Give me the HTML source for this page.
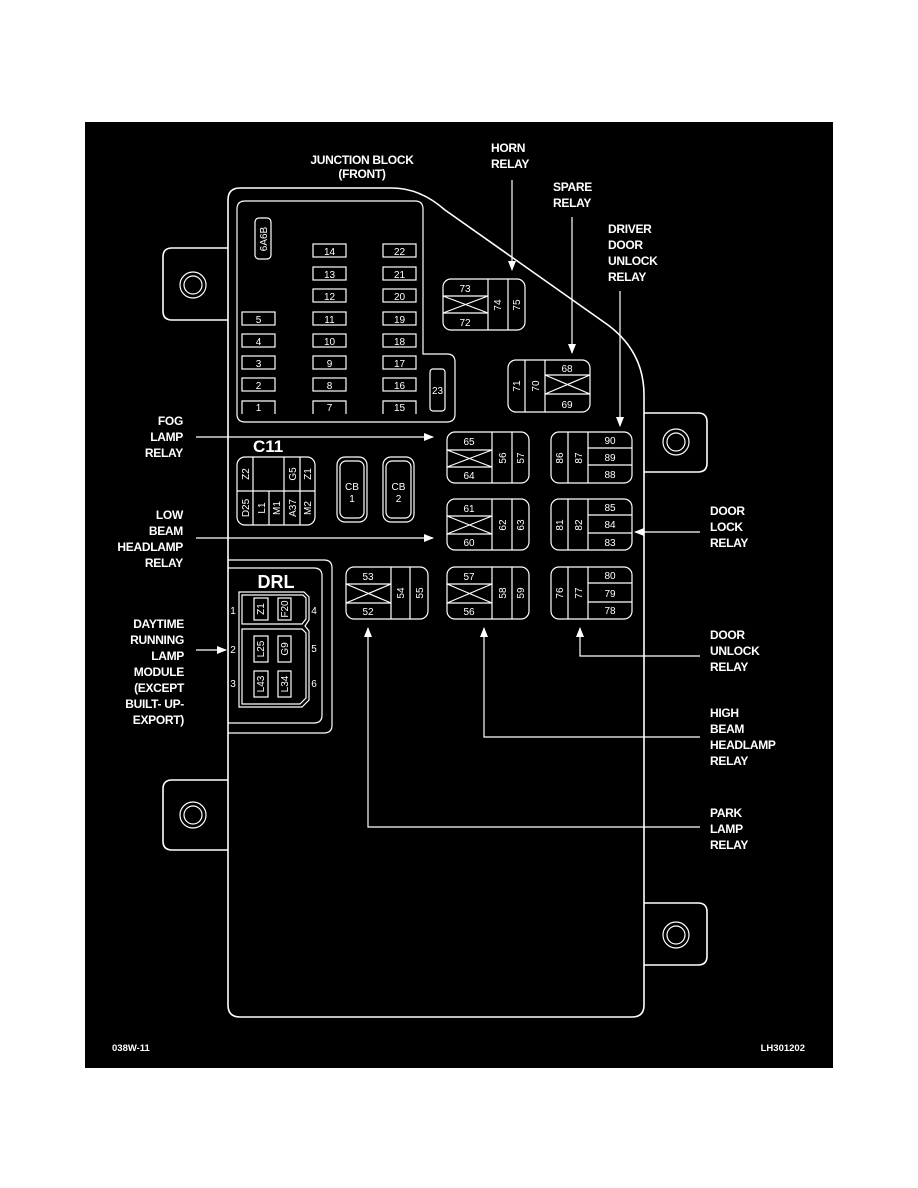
<!DOCTYPE html>
<html><head><meta charset="utf-8"><style>
html,body{margin:0;padding:0;background:#fff;}
svg{display:block;}
text{font-family:"Liberation Sans Narrow","Liberation Sans",sans-serif;fill:#fff;}
.l{font-weight:bold;font-size:12px;letter-spacing:-0.3px;}
.n{font-size:10px;}
.s{fill:none;stroke:#fff;stroke-width:1.6;}
.t{fill:none;stroke:#fff;stroke-width:1.2;}
</style></head><body>
<svg width="918" height="1188" viewBox="0 0 918 1188" xmlns="http://www.w3.org/2000/svg">
<defs><marker id="a" markerWidth="10" markerHeight="8" refX="9" refY="4" orient="auto" markerUnits="userSpaceOnUse"><path d="M0,0 L10,4 L0,8 Z" fill="#fff"/></marker></defs>
<rect x="85" y="122" width="748" height="946" fill="#000"/>

<!-- tabs -->
<path class="s" d="M228,248 H172 Q163,248 163,257 V311 Q163,320 172,320 H228"/>
<circle class="t" cx="193" cy="285" r="13"/><circle class="t" cx="193" cy="285" r="9"/>
<path class="s" d="M228,780 H172 Q163,780 163,789 V841 Q163,850 172,850 H228"/>
<circle class="t" cx="193" cy="815" r="13"/><circle class="t" cx="193" cy="815" r="9"/>
<path class="s" d="M644,413 H698 Q707,413 707,422 V463 Q707,472 698,472 H644"/>
<circle class="t" cx="676" cy="442" r="13"/><circle class="t" cx="676" cy="442" r="9"/>
<path class="s" d="M644,903 H698 Q707,903 707,912 V956 Q707,965 698,965 H644"/>
<circle class="t" cx="676" cy="935" r="13"/><circle class="t" cx="676" cy="935" r="9"/>

<!-- main outline -->
<path class="s" d="M228,200 Q228,188 240,188 H392 Q420,188 445,210 L608,325 Q644,352 644,395 V1005 Q644,1017 632,1017 H240 Q228,1017 228,1005 Z"/>

<!-- fuse panel -->
<path class="t" d="M245,201 H415 Q423,201 423,209 V354 H447 Q455,354 455,362 V414 Q455,422 447,422 H245 Q237,422 237,414 V209 Q237,201 245,201 Z"/>
<rect class="t" x="255" y="218" width="16" height="41" rx="4"/>
<text class="n" transform="translate(267,239) rotate(-90)" text-anchor="middle" font-size="9">6A6B</text>
<rect class="t" x="430" y="369" width="15" height="42" rx="3"/>
<text class="n" x="437.5" y="394" text-anchor="middle">23</text>
<g class="t">
<rect x="313" y="244" width="33" height="13"/><rect x="383" y="244" width="33" height="13"/>
<rect x="313" y="267" width="33" height="13"/><rect x="383" y="267" width="33" height="13"/>
<rect x="313" y="289" width="33" height="13"/><rect x="383" y="289" width="33" height="13"/>
<rect x="242" y="312" width="33" height="13"/><rect x="313" y="312" width="33" height="13"/><rect x="383" y="312" width="33" height="13"/>
<rect x="242" y="334" width="33" height="13"/><rect x="313" y="334" width="33" height="13"/><rect x="383" y="334" width="33" height="13"/>
<rect x="242" y="356" width="33" height="13"/><rect x="313" y="356" width="33" height="13"/><rect x="383" y="356" width="33" height="13"/>
<rect x="242" y="378" width="33" height="13"/><rect x="313" y="378" width="33" height="13"/><rect x="383" y="378" width="33" height="13"/>
<path d="M242,414 V401 H275 V414 M313,414 V401 H346 V414 M383,414 V401 H416 V414"/>
</g>
<g class="n" text-anchor="middle">
<text x="329.5" y="255">14</text><text x="399.5" y="255">22</text>
<text x="329.5" y="278">13</text><text x="399.5" y="278">21</text>
<text x="329.5" y="300">12</text><text x="399.5" y="300">20</text>
<text x="258.5" y="323">5</text><text x="329.5" y="323">11</text><text x="399.5" y="323">19</text>
<text x="258.5" y="345">4</text><text x="329.5" y="345">10</text><text x="399.5" y="345">18</text>
<text x="258.5" y="367">3</text><text x="329.5" y="367">9</text><text x="399.5" y="367">17</text>
<text x="258.5" y="389">2</text><text x="329.5" y="389">8</text><text x="399.5" y="389">16</text>
<text x="258.5" y="411">1</text><text x="329.5" y="411">7</text><text x="399.5" y="411">15</text>
</g>

<!-- Horn relay 73 -->
<rect class="t" x="443" y="279" width="82" height="51" rx="8"/>
<path class="t" d="M488,279 V330 M508,279 V330 M443,296 H488 M443,313 H488 M443,296 L488,313 M443,313 L488,296"/>
<g class="n" text-anchor="middle"><text x="465" y="292">73</text><text x="465" y="326">72</text>
<text transform="translate(501,305) rotate(-90)">74</text><text transform="translate(520,305) rotate(-90)">75</text></g>

<!-- Spare relay -->
<rect class="t" x="508" y="360" width="82" height="52" rx="8"/>
<path class="t" d="M525,360 V412 M545,360 V412 M545,375 H590 M545,394 H590 M545,375 L590,394 M545,394 L590,375"/>
<g class="n" text-anchor="middle"><text x="567" y="372">68</text><text x="567" y="408">69</text>
<text transform="translate(520,386) rotate(-90)">71</text><text transform="translate(539,386) rotate(-90)">70</text></g>

<!-- Type A relays -->
<rect class="t" x="447" y="432" width="82" height="51" rx="8"/>
<path class="t" d="M492,432 V483 M512,432 V483 M447,450 H492 M447,467 H492 M447,450 L492,467 M447,467 L492,450"/>
<g class="n" text-anchor="middle"><text x="469" y="445">65</text><text x="469" y="479">64</text>
<text transform="translate(506,458) rotate(-90)">56</text><text transform="translate(524,458) rotate(-90)">57</text></g>

<rect class="t" x="447" y="499" width="82" height="51" rx="8"/>
<path class="t" d="M492,499 V550 M512,499 V550 M447,516 H492 M447,534 H492 M447,516 L492,534 M447,534 L492,516"/>
<g class="n" text-anchor="middle"><text x="469" y="512">61</text><text x="469" y="546">60</text>
<text transform="translate(506,525) rotate(-90)">62</text><text transform="translate(524,525) rotate(-90)">63</text></g>

<rect class="t" x="447" y="567" width="82" height="52" rx="8"/>
<path class="t" d="M492,567 V619 M512,567 V619 M447,584 H492 M447,603 H492 M447,584 L492,603 M447,603 L492,584"/>
<g class="n" text-anchor="middle"><text x="469" y="580">57</text><text x="469" y="615">56</text>
<text transform="translate(506,593) rotate(-90)">58</text><text transform="translate(524,593) rotate(-90)">59</text></g>

<rect class="t" x="346" y="567" width="82" height="52" rx="8"/>
<path class="t" d="M391,567 V619 M410,567 V619 M346,584 H391 M346,603 H391 M346,584 L391,603 M346,603 L391,584"/>
<g class="n" text-anchor="middle"><text x="368" y="580">53</text><text x="368" y="615">52</text>
<text transform="translate(404,593) rotate(-90)">54</text><text transform="translate(423,593) rotate(-90)">55</text></g>

<!-- Type B relays -->
<rect class="t" x="551" y="432" width="81" height="51" rx="8"/>
<path class="t" d="M568,432 V483 M588,432 V483 M588,448 H632 M588,465 H632"/>
<g class="n" text-anchor="middle"><text x="610" y="444">90</text><text x="610" y="461">89</text><text x="610" y="478">88</text>
<text transform="translate(563,458) rotate(-90)">86</text><text transform="translate(582,458) rotate(-90)">87</text></g>

<rect class="t" x="551" y="499" width="81" height="51" rx="8"/>
<path class="t" d="M568,499 V550 M588,499 V550 M588,515 H632 M588,533 H632"/>
<g class="n" text-anchor="middle"><text x="610" y="511">85</text><text x="610" y="528">84</text><text x="610" y="546">83</text>
<text transform="translate(563,525) rotate(-90)">81</text><text transform="translate(582,525) rotate(-90)">82</text></g>

<rect class="t" x="551" y="567" width="81" height="52" rx="8"/>
<path class="t" d="M568,567 V619 M588,567 V619 M588,583 H632 M588,602 H632"/>
<g class="n" text-anchor="middle"><text x="610" y="579">80</text><text x="610" y="597">79</text><text x="610" y="614">78</text>
<text transform="translate(563,593) rotate(-90)">76</text><text transform="translate(582,593) rotate(-90)">77</text></g>

<!-- C11 -->
<text x="253" y="452" font-weight="bold" font-size="17">C11</text>
<rect class="t" x="237" y="457" width="78" height="68" rx="8"/>
<path class="t" d="M253,457 V525 M284,457 V525 M300,457 V525 M269,491 V525 M237,491 H253 M253,491 H284 M284,491 H315"/>
<g class="n" text-anchor="middle" font-size="9">
<text transform="translate(249,474) rotate(-90)">Z2</text><text transform="translate(296,474) rotate(-90)">G5</text><text transform="translate(311,474) rotate(-90)">Z1</text>
<text transform="translate(249,508) rotate(-90)">D25</text><text transform="translate(265,508) rotate(-90)">L1</text><text transform="translate(280,508) rotate(-90)">M1</text><text transform="translate(296,508) rotate(-90)">A37</text><text transform="translate(311,508) rotate(-90)">M2</text></g>
<rect class="t" x="337" y="457" width="30" height="65" rx="8"/><rect class="t" x="340" y="461" width="24" height="57" rx="6"/>
<rect class="t" x="383" y="457" width="31" height="65" rx="8"/><rect class="t" x="386" y="461" width="25" height="57" rx="6"/>
<g class="n" text-anchor="middle"><text x="352" y="490">CB</text><text x="352" y="502">1</text><text x="398.5" y="490">CB</text><text x="398.5" y="502">2</text></g>

<!-- DRL -->
<path class="t" d="M228,560 H324 Q332,560 332,568 V725 Q332,733 324,733 H228"/>
<path class="t" d="M228,568 H314 Q322,568 322,576 V715 Q322,723 314,723 H228"/>
<text x="276" y="588" font-weight="bold" font-size="18" text-anchor="middle">DRL</text>
<path class="t" d="M239,592 H304 L309,597 V620 L305,626 L309,631 V700 L302,707 H239 Z"/>
<path class="t" d="M242,595 H303 L306,598 V619 L302,624 H242 Z M242,629 H302 L306,633 V698 L300,704 H242 Z"/>
<g class="t"><rect x="254" y="598" width="14" height="22"/><rect x="278" y="598" width="13" height="22"/>
<rect x="254" y="636" width="14" height="26"/><rect x="278" y="636" width="13" height="26"/>
<rect x="254" y="671" width="14" height="26"/><rect x="278" y="671" width="13" height="26"/></g>
<g class="n" text-anchor="middle" font-size="9.5">
<text transform="translate(264,609) rotate(-90)">Z1</text><text transform="translate(288,609) rotate(-90)">F20</text>
<text transform="translate(264,649) rotate(-90)">L25</text><text transform="translate(288,649) rotate(-90)">G9</text>
<text transform="translate(264,684) rotate(-90)">L43</text><text transform="translate(288,684) rotate(-90)">L34</text>
<text x="233" y="614">1</text><text x="233" y="653">2</text><text x="233" y="687">3</text>
<text x="314" y="614">4</text><text x="314" y="652">5</text><text x="314" y="687">6</text></g>

<!-- arrows -->
<g class="t" marker-end="url(#a)">
<path d="M196,437 H433"/><path d="M196,538 H433"/><path d="M196,650 H226"/>
<path d="M512,180 V270"/><path d="M572,217 V353"/><path d="M620,291 V426"/>
<path d="M700,532 H635"/>
<path d="M700,656 H580 V628"/><path d="M700,737 H484 V628"/><path d="M700,827 H368 V628"/>
</g>

<!-- labels -->
<g class="l">
<g text-anchor="middle"><text x="362" y="164">JUNCTION BLOCK</text><text x="362" y="178">(FRONT)</text></g>
<text x="491" y="152">HORN</text><text x="491" y="168">RELAY</text>
<text x="553" y="191">SPARE</text><text x="553" y="207">RELAY</text>
<text x="608" y="233">DRIVER</text><text x="608" y="249">DOOR</text><text x="608" y="265">UNLOCK</text><text x="608" y="281">RELAY</text>
<g text-anchor="end">
<text x="183" y="425">FOG</text><text x="183" y="441">LAMP</text><text x="183" y="457">RELAY</text>
<text x="183" y="519">LOW</text><text x="183" y="535">BEAM</text><text x="183" y="551">HEADLAMP</text><text x="183" y="567">RELAY</text>
<text x="184" y="628">DAYTIME</text><text x="184" y="644">RUNNING</text><text x="184" y="660">LAMP</text><text x="184" y="676">MODULE</text><text x="184" y="692">(EXCEPT</text><text x="184" y="708">BUILT- UP-</text><text x="184" y="724">EXPORT)</text>
</g>
<text x="710" y="515">DOOR</text><text x="710" y="531">LOCK</text><text x="710" y="547">RELAY</text>
<text x="710" y="639">DOOR</text><text x="710" y="655">UNLOCK</text><text x="710" y="671">RELAY</text>
<text x="710" y="717">HIGH</text><text x="710" y="733">BEAM</text><text x="710" y="749">HEADLAMP</text><text x="710" y="765">RELAY</text>
<text x="710" y="817">PARK</text><text x="710" y="833">LAMP</text><text x="710" y="849">RELAY</text>
</g>
<text x="112" y="1051" font-size="9.5" font-weight="bold">038W-11</text>
<text x="805" y="1051" font-size="9.5" font-weight="bold" text-anchor="end">LH301202</text>
</svg>
</body></html>
